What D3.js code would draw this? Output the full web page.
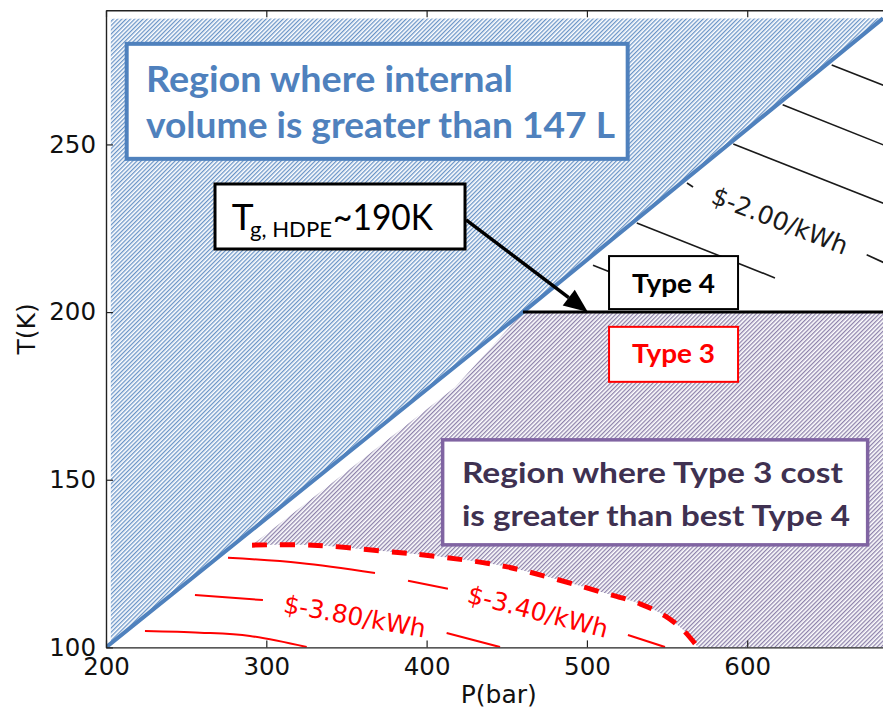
<!DOCTYPE html>
<html>
<head>
<meta charset="utf-8">
<script src="https://cdn.jsdelivr.net/npm/d3@7"></script>
<style>
  body { margin: 0; background: #fff; }
  svg { display: block; }
</style>
</head>
<body>
<svg id="chart" width="883" height="711"></svg>
<script>
// ---- axis ticks ----
const pTicks = [200, 300, 400, 500, 600];
const tTicks = [100, 150, 200, 250];

// ---- 147 L internal volume boundary (P bar, T K) ----
const volumeP = [200, 460.1, 684.7];
const volumeT = [100, 200, 287.6];
const volumeRegionTopT = 287.5;
const volumeRegionLeftP = 203;

// ---- HDPE liner limit: Type 4 above, Type 3 below ----
const linerLimitT = 200;
const linerLimitStartP = 460.1;

// ---- Type 3 cost = best Type 4 cost (break-even curve) ----
const breakEvenP = [291.1, 329.1, 372.8, 408.4, 450.2, 508.2, 533.1, 548.7, 560.0, 569.3];
const breakEvenT = [130.5, 130.5, 128.7, 127.0, 124.0, 116.6, 113.0, 109.4, 105.2, 100];

// left edge of the region where Type 3 costs more
const t3EdgeP = [291.1, 417.7, 460.1];
const t3EdgeT = [130.5, 177.6, 200];

// ---- Type 4 cost contours (visible pieces; label sits after piece `gap`) ----
const type4Contours = [
  { label: null, pieces: [[[652.7, 273.7], [690, 266.7]]] },
  { label: null, pieces: [[[622.1, 261.8], [690, 248.9]]] },
  { label: null, pieces: [[[591.3, 250.1], [690, 231.5]]] },
  { label: "$-2.00/kWh", gap: 0, pieces: [[[562.4, 238.5], [566.2, 237.3]], [[674.5, 217.1], [690, 213.7]]] },
  { label: null, pieces: [[[531.1, 226.6], [617.3, 210.2]]] },
  { label: null, pieces: [[[503.8, 214.0], [560, 203.3]]] }
];

// ---- Type 3 cost contours ----
const type3Contours = [
  { label: "$-3.40/kWh", gap: 1, pieces: [
      [[276.1, 126.7], [321.0, 125.2], [367.8, 122.2]],
      [[388.4, 119.9], [413.3, 117.5]],
      [[525.6, 103.7], [548.7, 100.1]] ] },
  { label: "$-3.80/kWh", gap: 0, pieces: [
      [[255.5, 115.6], [297.9, 114.1]],
      [[412.5, 104.3], [445.8, 100.1]] ] },
  { label: null, pieces: [
      [[224.3, 104.9], [258.6, 104.4], [289.8, 103.4], [325.2, 100.1]] ] }
];

// ---- annotation anchors (top-left corner in P, T) ----
const volumeNote = { p: 212.9, t: 280.0, lines: ["Region where internal", "volume is greater than 147 L"] };
const costNote   = { p: 410.0, t: 161.9, lines: ["Region where Type 3 cost", "is greater than best Type 4"] };
const tgNote     = { p: 268.0, t: 238.2, arrowFrom: [424.6, 227.5], arrowTo: [500.6, 200] };
const type4Note  = { p: 513.8, t: 216.7, text: "Type 4" };
const type3Note  = { p: 513.8, t: 195.6, text: "Type 3" };

// ---- scales ----
const x = d3.scaleLinear().domain([200, 690]).range([106, 891.5]);
const y = d3.scaleLinear().domain([100, 290]).range([647.4, 10.3]);

const svg = d3.select("#chart");
const defs = svg.append("defs");

function hatch(id, color) {
  const p = defs.append("pattern")
    .attr("id", id)
    .attr("patternUnits", "userSpaceOnUse")
    .attr("width", 3).attr("height", 3)
    .attr("patternTransform", "rotate(45)");
  p.append("rect").attr("width", 3).attr("height", 3).attr("fill", "#fff");
  p.append("line").attr("x1", 0.7).attr("y1", 0).attr("x2", 0.7).attr("y2", 3)
    .attr("stroke", color).attr("stroke-width", 1.1);
}
hatch("hatchBlue", "#4f81bd");
hatch("hatchPurple", "#7a6c9c");

defs.append("clipPath").attr("id", "plotClip")
  .append("rect")
  .attr("x", x(200)).attr("y", y(290))
  .attr("width", x(690) - x(200)).attr("height", y(100) - y(290));

const plot = svg.append("g").attr("clip-path", "url(#plotClip)");
const line = d3.line().x(d => x(d[0])).y(d => y(d[1]));
const smooth = d3.line().x(d => x(d[0])).y(d => y(d[1])).curve(d3.curveCatmullRom.alpha(0.5));

const zip = (a, b) => a.map((v, i) => [v, b[i]]);
const volumeLine = zip(volumeP, volumeT);
const breakEven = zip(breakEvenP, breakEvenT);
const t3Edge = zip(t3EdgeP, t3EdgeT);

// region where volume exceeds 147 L (left of the boundary)
const volumeRegion = [[volumeRegionLeftP, volumeRegionTopT],
  [volumeRegionLeftP, 100 + (volumeRegionLeftP - 200) * (volumeT[1] - 100) / (volumeP[1] - 200)]]
  .concat(volumeLine.filter(d => d[0] > volumeRegionLeftP));
plot.append("path")
  .attr("d", line(volumeRegion) + "Z")
  .attr("fill", "url(#hatchBlue)");

// region where Type 3 costs more than the best Type 4
const costRegion = t3Edge
  .concat([[690, linerLimitT], [690, 100]])
  .concat(breakEven.slice().reverse());
plot.append("path")
  .attr("d", line(costRegion) + "Z")
  .attr("fill", "url(#hatchPurple)");
// clean underside below the curved break-even boundary
plot.append("path")
  .attr("d", smooth(breakEven) + "L" + x(breakEvenP[0]) + "," + y(100) + "Z")
  .attr("fill", "#fff");

// contour lines
function drawContours(set, color, width) {
  set.forEach(c => {
    c.pieces.forEach(pc => {
      plot.append("path").attr("d", smooth(pc))
        .attr("fill", "none").attr("stroke", color).attr("stroke-width", width);
    });
    if (c.label) {
      const before = c.pieces[c.gap], after = c.pieces[c.gap + 1];
      const a = before[before.length - 1];
      const b = after[0];
      const ax = x(a[0]), ay = y(a[1]), bx = x(b[0]), by = y(b[1]);
      const ang = Math.atan2(by - ay, bx - ax) * 180 / Math.PI;
      plot.append("text")
        .attr("transform", `translate(${(ax + bx) / 2},${(ay + by) / 2}) rotate(${ang})`)
        .attr("text-anchor", "middle")
        .attr("dominant-baseline", "central")
        .attr("font-family", "'DejaVu Sans', sans-serif")
        .attr("font-size", 25)
        .attr("fill", color)
        .text(c.label);
    }
  });
}
drawContours(type4Contours, "#1a1a1a", 1.6);
drawContours(type3Contours, "#ff0000", 2);

// break-even curve
plot.append("path").attr("d", smooth(breakEven))
  .attr("fill", "none").attr("stroke", "#ff0000").attr("stroke-width", 5)
  .attr("stroke-dasharray", "15,13");

// volume boundary
plot.append("path").attr("d", line(volumeLine))
  .attr("fill", "none").attr("stroke", "#4f81bd").attr("stroke-width", 4);

// liner limit line
plot.append("line")
  .attr("x1", x(linerLimitStartP)).attr("x2", x(690))
  .attr("y1", y(linerLimitT)).attr("y2", y(linerLimitT))
  .attr("stroke", "#000").attr("stroke-width", 3);

// ---- axes ----
const tickFont = "'DejaVu Sans', sans-serif";
function styleAxis(g) {
  g.selectAll("path.domain").attr("stroke", "#222").attr("stroke-width", 1.4);
  g.selectAll(".tick line").attr("stroke", "#222").attr("stroke-width", 1.2);
  g.selectAll(".tick text").attr("font-family", tickFont).attr("font-size", 24.5).attr("fill", "#111");
}
svg.append("g").attr("transform", `translate(0,${y(100)})`)
  .call(d3.axisBottom(x).tickValues(pTicks).tickSize(-7).tickSizeOuter(0).tickPadding(10))
  .call(styleAxis);
svg.append("g").attr("transform", `translate(0,${y(290)})`)
  .call(d3.axisTop(x).tickValues(pTicks).tickSize(-7).tickSizeOuter(0).tickFormat(""))
  .call(styleAxis);
svg.append("g").attr("transform", `translate(${x(200)},0)`)
  .call(d3.axisLeft(y).tickValues(tTicks).tickSize(-7).tickSizeOuter(0).tickPadding(10))
  .call(styleAxis);

svg.append("text")
  .attr("x", (x(200) + x(690)) / 2).attr("y", 703)
  .attr("text-anchor", "middle")
  .attr("font-family", tickFont).attr("font-size", 25).attr("fill", "#111")
  .text("P(bar)");
svg.append("text")
  .attr("transform", `translate(35,${(y(100) + y(290)) / 2}) rotate(-90)`)
  .attr("text-anchor", "middle")
  .attr("font-family", tickFont).attr("font-size", 25).attr("fill", "#111")
  .text("T(K)");

// ---- annotations ----
const noteFont = "Lato, 'Open Sans', sans-serif";
function box(px, py, w, h, stroke, sw) {
  svg.append("rect").attr("x", px).attr("y", py).attr("width", w).attr("height", h)
    .attr("fill", "#fff").attr("stroke", stroke).attr("stroke-width", sw);
}

// volume note
{
  const bx = x(volumeNote.p), by = y(volumeNote.t);
  box(bx, by, 501, 115, "#4f81bd", 4);
  const widths = [367, 469];
  volumeNote.lines.forEach((s, i) => {
    svg.append("text").attr("x", bx + 19.3).attr("y", by + 48 + i * 46)
      .attr("font-family", noteFont).attr("font-weight", 700).attr("font-size", 37)
      .attr("fill", "#4f81bd")
      .attr("textLength", widths[i]).attr("lengthAdjust", "spacingAndGlyphs")
      .text(s);
  });
}

// cost note
{
  const bx = x(costNote.p), by = y(costNote.t);
  box(bx, by, 425, 105, "#8064a2", 3.5);
  const widths = [381, 388];
  costNote.lines.forEach((s, i) => {
    svg.append("text").attr("x", bx + 19.3).attr("y", by + 43 + i * 43)
      .attr("font-family", noteFont).attr("font-weight", 700).attr("font-size", 28)
      .attr("fill", "#3f3151")
      .attr("textLength", widths[i]).attr("lengthAdjust", "spacingAndGlyphs")
      .text(s);
  });
}

// arrow from the Tg note to the liner limit
{
  const [p0, t0] = tgNote.arrowFrom, [p1, t1] = tgNote.arrowTo;
  const x0 = x(p0), y0 = y(t0), x1 = x(p1), y1 = y(t1);
  const ang = Math.atan2(y1 - y0, x1 - x0);
  const hl = 24, hw = 10;
  const bxp = x1 - hl * Math.cos(ang), byp = y1 - hl * Math.sin(ang);
  svg.append("line").attr("x1", x0).attr("y1", y0).attr("x2", bxp).attr("y2", byp)
    .attr("stroke", "#000").attr("stroke-width", 3.5);
  const nx = -Math.sin(ang), ny = Math.cos(ang);
  svg.append("path")
    .attr("d", `M${x1},${y1}L${bxp + nx * hw},${byp + ny * hw}L${bxp - nx * hw},${byp - ny * hw}Z`)
    .attr("fill", "#000");
}

// Tg note: one text element with a subscript tspan
{
  const bx = x(tgNote.p), by = y(tgNote.t);
  box(bx, by, 250, 65, "#000", 3);
  const t = svg.append("text").attr("x", bx + 16.7).attr("y", by + 46)
    .attr("font-family", noteFont).attr("font-size", 37).attr("fill", "#000");
  t.append("tspan").text("T");
  t.append("tspan").attr("x", bx + 35).attr("y", by + 53).attr("font-size", 21)
    .attr("textLength", 82).attr("lengthAdjust", "spacingAndGlyphs").text("g, HDPE");
  t.append("tspan").attr("x", bx + 118).attr("y", by + 46)
    .attr("textLength", 100).attr("lengthAdjust", "spacingAndGlyphs").text("~190K");
}

// Type labels
[[type4Note, "#000", 53, 37], [type3Note, "#ff0000", 55, 36.3]].forEach(([n, c, h, base]) => {
  const bx = x(n.p), by = y(n.t);
  box(bx, by, 129, h, c, 2);
  svg.append("text").attr("x", bx + 64.5).attr("y", by + base)
    .attr("text-anchor", "middle")
    .attr("font-family", noteFont).attr("font-weight", 700).attr("font-size", 26.5)
    .attr("fill", c)
    .attr("textLength", 83).attr("lengthAdjust", "spacingAndGlyphs")
    .text(n.text);
});
</script>
</body>
</html>
